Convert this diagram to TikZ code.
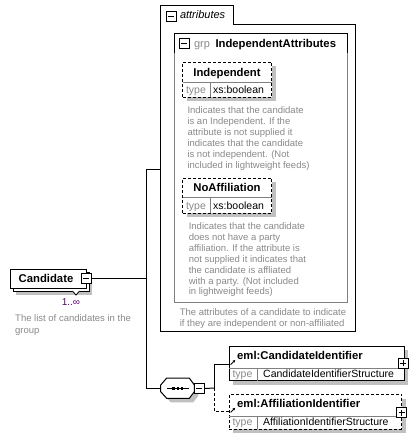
\documentclass[tikz,border=0pt]{standalone}
\usepackage{fontspec}
\setmainfont{Liberation Sans}
\usetikzlibrary{arrows.meta}
\definecolor{descgray}{RGB}{138,138,138}
\definecolor{shadowgray}{RGB}{192,192,192}
\definecolor{framegray}{RGB}{128,128,128}
\definecolor{occpurple}{RGB}{90,0,110}
\newcommand\mkicon[4]{% name, x, y, plus(1)/minus(0)
  \node[iconbox] (#1) at (#2,#3) {};
  \draw[line width=1pt] ([xshift=-3pt]#1.center) -- ([xshift=3pt]#1.center);
  \ifnum#4=1 \draw[line width=1pt] ([yshift=-3pt]#1.center) -- ([yshift=3pt]#1.center);\fi}
\begin{document}
\begin{tikzpicture}[x=1pt,y=-1pt,line width=1pt,
  box/.style={draw=black,fill=white,anchor=north west,inner sep=0pt,outer sep=0pt},
  optbox/.style={box,dash pattern=on 3pt off 2pt},
  shadowbox/.style={fill=shadowgray,draw=none,anchor=north west,inner sep=0pt,outer sep=0pt},
  iconbox/.style={box,minimum width=10pt,minimum height=10pt},
  divider/.style={draw=framegray,line width=0.8pt},
  desc/.style={text=descgray,font=\fontsize{9.5}{11}\selectfont,anchor=base west,inner sep=0pt},
  titlebf/.style={font=\bfseries\fontsize{11.3}{13}\selectfont,anchor=base,inner sep=0pt},
  typelbl/.style={text=descgray,font=\fontsize{10.5}{12}\selectfont,anchor=base west,inner sep=0pt},
  typeval/.style={font=\fontsize{10.5}{12}\selectfont,anchor=base west,inner sep=0pt},
  optline/.style={dash pattern=on 3pt off 2pt},
  refarrow/.style={-{Stealth[length=2.6pt,width=2.6pt]},line width=0.8pt}]
\useasboundingbox[fill=white] (0,0) rectangle (419,439);

% ---------- attributes frame ----------
\draw (160.5,5) -- (233,5) -- (233,24) -- (355,24) -- (355,331) -- (160.5,331) -- cycle;
\mkicon{attrminus}{166}{11}{0}
\node[anchor=base west,inner sep=0pt,font=\itshape\fontsize{11}{13}\selectfont] (attrtitle) at (179.5,18.8) {attributes};

% ---------- group frame ----------
\draw[framegray] (174,33) rectangle (347,302);
\draw (174,53) -- (174,33) -- (347,33) -- (347,53);
\mkicon{grpminus}{179}{38.5}{0}
\node[anchor=base west,inner sep=0pt,text=descgray,font=\fontsize{11}{13}\selectfont] (grplbl) at (193.5,47.3) {grp};
\node[anchor=base west,inner sep=0pt,font=\bfseries\fontsize{11.3}{13}\selectfont] (grpname) at (215,47.3) {IndependentAttributes};

% ---------- Independent ----------
\node[shadowbox,minimum width=89pt,minimum height=35pt] (indshadow) at (186.5,66) {};
\node[optbox,minimum width=89pt,minimum height=35pt] (indbox) at (182.5,62) {};
\draw[divider] (182.5,82) -- (271.5,82);
\draw[divider] (210,82) -- (210,97);
\node[titlebf] (indname) at (227,76.3) {Independent};
\node[typelbl] (indtype) at (185.5,93.2) {type};
\node[typeval] (indval) at (212.7,93.2) {xs:boolean};
\foreach \t [count=\i] in {{Indicates that the candidate},{is an Independent. If the},{attribute is not supplied it},{indicates that the candidate},{is not independent. (Not},{included in lightweight feeds)}}
  \node[desc] (inddesc\i) at ({187},{113.5+11*(\i-1)}) {\t};

% ---------- NoAffiliation ----------
\node[shadowbox,minimum width=89pt,minimum height=35pt] (nashadow) at (186.5,182) {};
\node[optbox,minimum width=89pt,minimum height=35pt] (nabox) at (182.5,178) {};
\draw[divider] (182.5,197.5) -- (271.5,197.5);
\draw[divider] (210,197.5) -- (210,213);
\node[titlebf] (naname) at (227,191) {NoAffiliation};
\node[typelbl] (natype) at (185.5,209.3) {type};
\node[typeval] (naval) at (212.7,209.3) {xs:boolean};
\foreach \t [count=\i] in {{Indicates that the candidate},{does not have a party},{affiliation. If the attribute is},{not supplied it indicates that},{the candidate is affliated},{with a party. (Not included},{in lightweight feeds)}}
  \node[desc] (nadesc\i) at ({188.3},{229.5+10.9*(\i-1)}) {\t};

\node[desc] (attrdesc1) at (179.3,315.2) {The attributes of a candidate to indicate};
\node[desc] (attrdesc2) at (179.3,326.2) {if they are independent or non-affiliated};

% ---------- Candidate ----------
\node[shadowbox,minimum width=76pt,minimum height=19pt] (candshadow) at (16,276) {};
\node[box,minimum width=76pt,minimum height=19pt] (candback) at (13,272) {};
\draw[line width=0.8pt,fill=white] (72.5,291) -- (76,295) -- (79.5,291);
\node[box,minimum width=76pt,minimum height=19pt] (candbox) at (10,269) {};
\node[titlebf] (candname) at (46,282.6) {Candidate};
\mkicon{candminus}{81}{273.5}{0}
\node[anchor=base,inner sep=0pt,text=occpurple,font=\fontsize{10}{12}\selectfont] (candocc) at (71,305.5) {1..∞};
\node[desc] (canddesc1) at (14.7,321.7) {The list of candidates in the};
\node[desc] (canddesc2) at (14.7,333) {group};

% ---------- sequence ----------
\fill[shadowgray] (170.7,382) -- (193.3,382) -- (198.3,389) -- (198.3,395.7) -- (193.3,402.3) -- (170.7,402.3) -- (164.7,395.7) -- (164.7,389) -- cycle;
\draw[fill=white] (166.7,378) -- (189.3,378) -- (194.3,385) -- (194.3,391.7) -- (189.3,398.3) -- (166.7,398.3) -- (160.7,391.7) -- (160.7,385) -- cycle;
\draw[line width=0.8pt] (167,388.2) -- (189,388.2);
\foreach \dx in {173.5,177.8,182.1}
  \fill (\dx-1.3,386.9) rectangle (\dx+1.3,389.5);
\mkicon{seqminus}{194.3}{383.3}{0}

% ---------- CandidateIdentifier ----------
\node[shadowbox,minimum width=175pt,minimum height=34.7pt] (cidshadow) at (233.3,350) {};
\node[box,minimum width=175pt,minimum height=34.7pt] (cidbox) at (229.3,346) {};
\draw[divider] (229.3,368.5) -- (404.3,368.5);
\draw[divider] (257,368.5) -- (257,380.7);
\node[anchor=base west,inner sep=0pt,font=\bfseries\fontsize{11.3}{13}\selectfont] (cidname) at (236.7,359.3) {eml:CandidateIdentifier};
\node[typelbl] (cidtype) at (232,377.3) {type};
\node[typeval] (cidval) at (262.7,377.3) {CandidateIdentifierStructure};
\mkicon{cidplus}{398.3}{358.3}{1}
\coordinate (cidarrA) at (230.6,364.6);
\coordinate (cidarrB) at (235.2,360);
\draw[refarrow] (cidarrA) -- (cidarrB);

% ---------- AffiliationIdentifier ----------
\node[shadowbox,minimum width=172.4pt,minimum height=34.5pt] (affshadow) at (233.3,398.5) {};
\node[optbox,minimum width=172.4pt,minimum height=34.5pt] (affbox) at (229.3,394.5) {};
\draw[divider] (229.3,416) -- (401.7,416);
\draw[divider] (257,416) -- (257,429);
\node[anchor=base west,inner sep=0pt,font=\bfseries\fontsize{11.3}{13}\selectfont] (affname) at (236.7,407) {eml:AffiliationIdentifier};
\node[typelbl] (afftype) at (232,425.5) {type};
\node[typeval] (affval) at (262.7,425.5) {AffiliationIdentifierStructure};
\mkicon{affplus}{396.7}{407.7}{1}
\coordinate (affarrA) at (230.6,412.4);
\coordinate (affarrB) at (235.2,407.8);
\draw[refarrow] (affarrA) -- (affarrB);

% ---------- connectors ----------
\coordinate (trunkTop) at (146,169.5);
\coordinate (trunkBot) at (146,388.2);
\coordinate (attrIn) at (160.5,169.5);
\coordinate (seqIn) at (160.7,388.2);
\coordinate (fork) at (214,388.2);
\coordinate (cidIn) at (229.3,364);
\coordinate (affIn) at (229.3,411.7);
\draw (candminus.east) -- (candminus.east -| trunkTop);
\draw (trunkTop) -- (trunkBot);
\draw (trunkTop) -- (attrIn);
\draw (trunkBot) -- (seqIn);
\draw (seqminus.east) -- (fork);
\draw (fork) |- (cidIn);
\draw[optline] (fork) |- (affIn);
\end{tikzpicture}
\end{document}
